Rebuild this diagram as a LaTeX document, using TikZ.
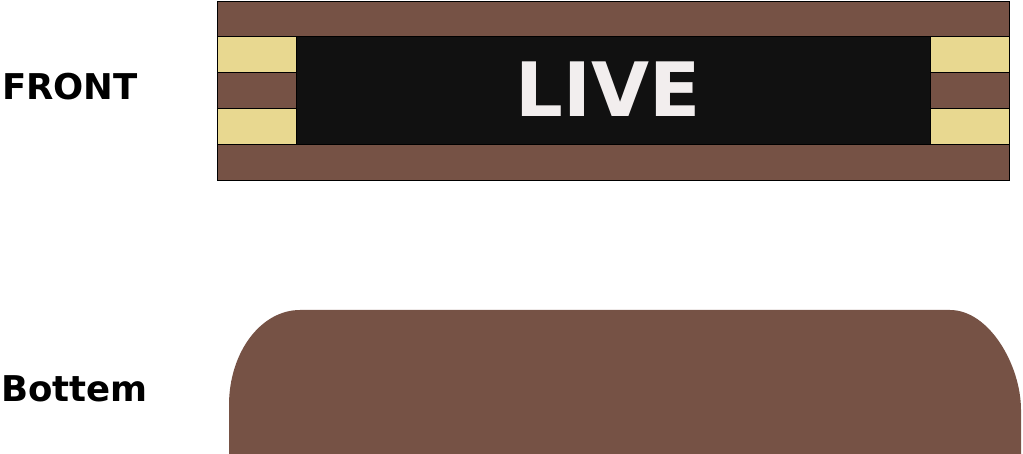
\documentclass[tikz,border=0pt]{standalone}
\usepackage{fontspec}
\setmainfont{DejaVu Sans}
\usepackage{tikz}
\usetikzlibrary{positioning}

\definecolor{signbrown}{HTML}{765245}
\definecolor{signyellow}{HTML}{E8D890}
\definecolor{signblack}{HTML}{111111}
\definecolor{signwhite}{HTML}{F2EEEE}

\begin{document}
\begin{tikzpicture}[
            x=1pt, y=-1pt,
            band/.style={fill=signbrown, draw=black, line width=0.5pt},
            strip/.style={fill=signyellow, draw=black, line width=0.5pt},
            panel/.style={fill=signblack, draw=black, line width=0.5pt},
            caption/.style={font=\bfseries\fontsize{35.5}{40}\selectfont, inner sep=0pt, anchor=base west}
        ]
            \useasboundingbox (0,0) rectangle (1023,454);
            % front view
            \path[band] (217,1) rectangle (1009,180);
            \path[strip] (217,36) rectangle (296,72);
            \path[strip] (217,108) rectangle (296,144);
            \path[strip] (930,36) rectangle (1009,72);
            \path[strip] (930,108) rectangle (1009,144);
            \path[panel] (296,36) rectangle (930,144);
            \node[font=\bfseries\fontsize{75}{80}\selectfont, text=signwhite, inner sep=0pt, anchor=base] (live) at (608,117) {LIVE};
            \node[caption] (front) at (2,100) {FRONT};
            % bottom view
            \fill[signbrown] (229,454) -- (229,405)
                .. controls (229,352.5) and (260.8,310) .. (300,310)
                -- (950,310)
                .. controls (989.2,310) and (1021,365.2) .. (1021,410)
                -- (1021,454) -- cycle;
            \node[caption] (bottem) at (1,401) {Bottem};
        \end{tikzpicture}
\end{document}
